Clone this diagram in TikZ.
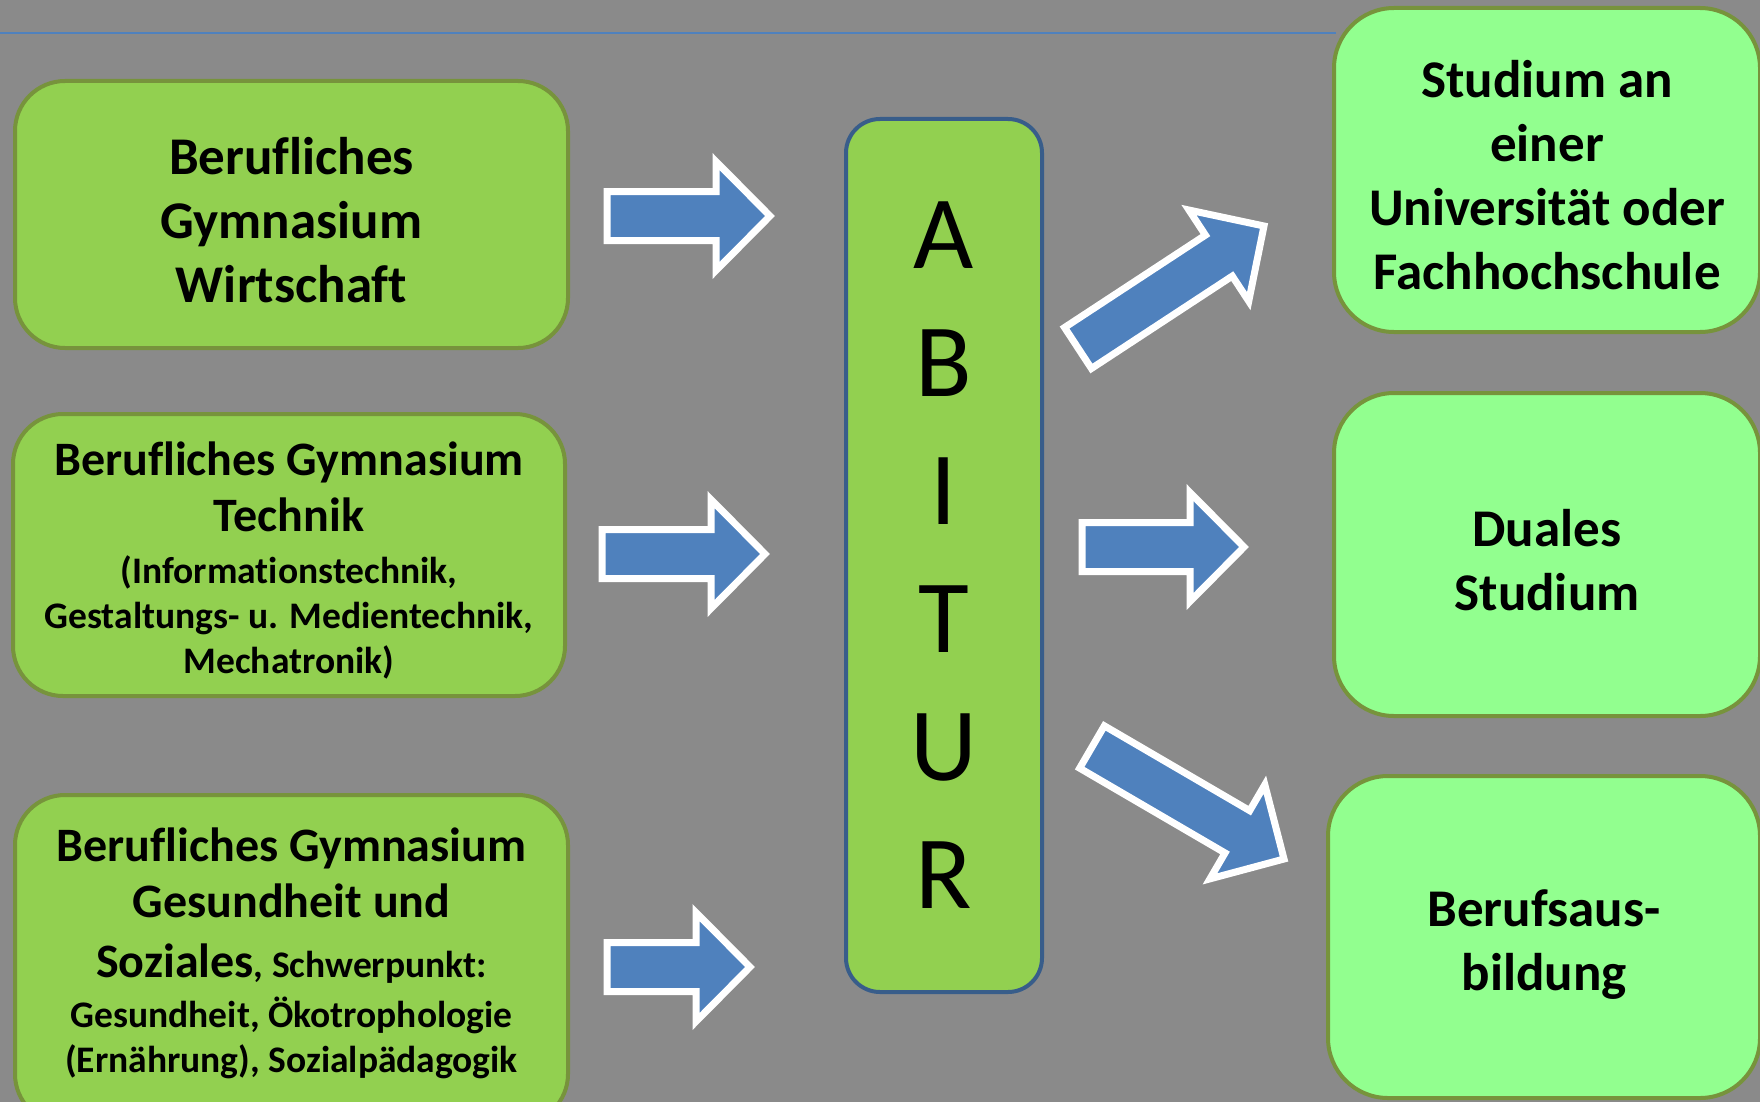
\documentclass[tikz,border=0pt]{standalone}
\usepackage{fontspec}
\setmainfont{Carlito}[Ligatures=NoCommon]
\usepackage{tikz}
\usetikzlibrary{calc}
\definecolor{tafel}{RGB}{138,138,138}
\definecolor{gruen}{RGB}{146,208,80}
\definecolor{hellgruen}{RGB}{146,255,143}
\definecolor{oliv}{RGB}{119,147,60}
\definecolor{pfeil}{RGB}{79,129,189}
\definecolor{rahmen}{RGB}{56,93,138}

\newcommand{\klein}{\fontsize{18.75}{22.5}\selectfont}
\newcommand{\blockarrow}[2]{%
    \coordinate (hb) at ($(#2)!27pt!(#1)$);
    \draw[pfeilform] ($(#1)!12.25pt!90:(#2)$) -- ($(hb)!12.25pt!90:(#2)$) -- ($(hb)!27.25pt!90:(#2)$)
        -- (#2) -- ($(hb)!27.25pt!-90:(#2)$) -- ($(hb)!12.25pt!-90:(#2)$) -- ($(#1)!12.25pt!-90:(#2)$) -- cycle;
}

\begin{document}
\begin{tikzpicture}[
    x=0.5pt, y=-0.5pt,
    box/.style={draw=oliv, line width=2pt, rounded corners=25pt, fill=gruen, inner sep=0pt},
    ziel/.style={box, fill=hellgruen, rounded corners=30pt},
    boxtext/.style={align=center, inner sep=0pt},
    gross/.style={font=\bfseries\fontsize{26.5}{32}\selectfont},
    mittel/.style={font=\bfseries\fontsize{24}{28}\selectfont},
    pfeilform/.style={draw=white, line width=3.5pt, fill=pfeil, line join=miter}
]
    % Background
    \fill[tafel] (0,0) rectangle (1760,1102);
    \useasboundingbox (0,0) rectangle (1760,1102);
    \draw[pfeil, line width=1pt] (0,33) -- (1336,33);

    % Left boxes
    \node[box, minimum width=276.5pt, minimum height=133.5pt] (wirtschaft) at (291.5,214.5) {};
    \node[boxtext, gross] (wirtschafttext) at ([yshift=-3pt]wirtschaft.center) {
        Berufliches\\ Gymnasium\\ Wirtschaft
    };

    \node[box, minimum width=276pt, minimum height=141pt] (technik) at (289,555) {};
    \node[boxtext, mittel] (techniktext) at ([yshift=-2.8pt]technik.center) {
        Berufliches Gymnasium\\ Technik\\[-2.2pt]
        {\klein (Informationstechnik,}\\[-5.5pt]
        {\klein Gestaltungs- u. Medientechnik,}\\[-5.5pt]
        {\klein Mechatronik)}
    };

    \node[box, minimum width=276.5pt, minimum height=164.5pt] (soziales) at (291.5,959.5) {};
    \node[boxtext, mittel] (sozialestext) at (291.5,953.5) {
        Berufliches Gymnasium\\ Gesundheit und\\[1.7pt]
        Soziales{\klein, Schwerpunkt:}\\[-2.7pt]
        {\klein Gesundheit, Ökotrophologie}\\[-5.5pt]
        {\klein (Ernährung), Sozialpädagogik}
    };

    % ABITUR
    \node[box, draw=rahmen, rounded corners=17pt, minimum width=98pt, minimum height=436.5pt,
        align=center, font=\fontsize{52}{64}\selectfont] (abitur) at (944,555.5) {
        A\\ B\\ I\\ T\\ U\\ R
    };

    % Right boxes
    \node[ziel, minimum width=213pt, minimum height=162pt] (studium) at (1547,170) {};
    \node[boxtext, gross] (studiumtext) at ([yshift=-2.5pt]studium.center) {
        Studium an\\ einer\\ Universität oder\\ Fachhochschule
    };
    \node[ziel, minimum width=213pt, minimum height=161.5pt] (dual) at (1547,554.5) {};
    \node[boxtext, gross] (dualtext) at ([yshift=-2.8pt]dual.center) {
        Duales\\ Studium
    };
    \node[ziel, minimum width=216pt, minimum height=161pt] (ausbildung) at (1544,937) {};
    \node[boxtext, gross] (ausbildungtext) at ([yshift=-3.6pt]ausbildung.center) {
        Berufsaus-\\ bildung
    };

    % Arrows
    \coordinate (w1) at (607,216);  \coordinate (w2) at (770,216);
    \coordinate (t1) at (602,554);  \coordinate (t2) at (765,554);
    \coordinate (s1) at (607,967);  \coordinate (s2) at (750,967);
    \coordinate (a1) at (1078,348); \coordinate (a2) at (1264,226);
    \coordinate (d1) at (1082,547); \coordinate (d2) at (1244,547);
    \coordinate (b1) at (1092,747); \coordinate (b2) at (1284,859);
    \blockarrow{w1}{w2}
    \blockarrow{t1}{t2}
    \blockarrow{s1}{s2}
    \blockarrow{a1}{a2}
    \blockarrow{d1}{d2}
    \blockarrow{b1}{b2}
\end{tikzpicture}
\end{document}
